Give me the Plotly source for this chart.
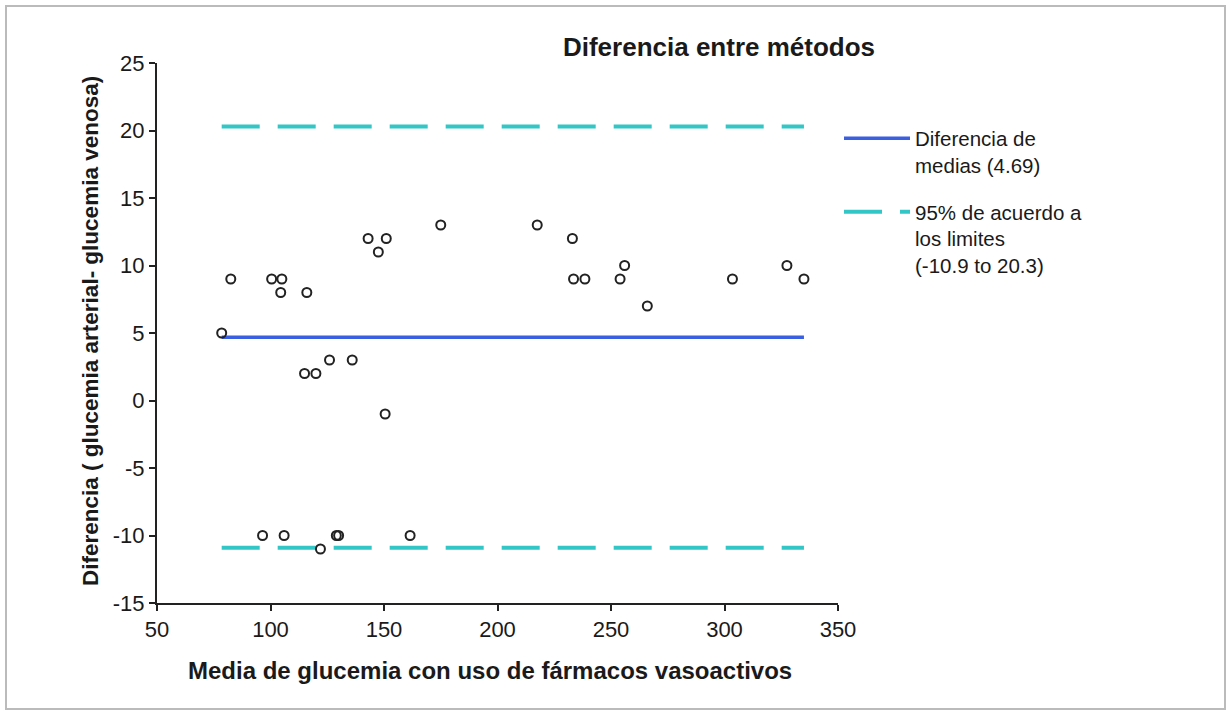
import plotly.graph_objects as go

# Data
media = [78.5, 82.5, 100.5, 105, 104.5, 116, 143, 151, 147.5, 175,
         217.5, 233, 233.5, 238.5, 254, 256, 266, 303.5, 327.5, 335,
         115, 120, 126, 136, 150.5, 96.5, 106, 122, 129, 130, 161.5]
diferencia = [5, 9, 9, 9, 8, 8, 12, 12, 11, 13,
              13, 12, 9, 9, 9, 10, 7, 9, 10, 9,
              2, 2, 3, 3, -1, -10, -10, -11, -10, -10, -10]
media_dif = 4.69
lim_inf = -10.9
lim_sup = 20.3

x_ticks = [50, 100, 150, 200, 250, 300, 350]
y_ticks = [-15, -10, -5, 0, 5, 10, 15, 20, 25]
y_tick_labels = ["-15", "-10", "-5", "0", "5", "10", "15", "20", "25"]

FONT = "Liberation Sans, Arial, sans-serif"
TXT = "#1a1a1a"

x0, x1 = min(media), max(media)

fig = go.Figure()
fig.add_trace(go.Scatter(
    x=[x0, x1], y=[media_dif, media_dif], mode="lines",
    line=dict(color="#3A5FE0", width=3.5), legendgroup="media",
    name="Diferencia de<br>medias (4.69)"))
fig.add_trace(go.Scatter(
    x=[x0, x1, None, x0, x1], y=[lim_sup, lim_sup, None, lim_inf, lim_inf],
    mode="lines", line=dict(color="#33C6C6", width=4, dash="38px,18px"),
    legendgroup="limites",
    name="95% de acuerdo a<br>los limites<br>(-10.9 to 20.3)"))
fig.add_trace(go.Scatter(
    x=media, y=diferencia, mode="markers", showlegend=False,
    marker=dict(symbol="circle-open", size=9, color="#222222",
                line=dict(width=2))))

W, H = 1230, 711
L, R, T, B = 157, 392, 63, 108
pw, ph = W - L - R, H - T - B

def px(x):
    return (x - L) / pw

def py(y):
    return (H - B - y) / ph

fig.update_layout(
    width=W, height=H,
    margin=dict(l=L, r=R, t=T, b=B),
    paper_bgcolor="white", plot_bgcolor="white",
    font=dict(family=FONT, color=TXT, size=22),
    title=dict(text="<b>Diferencia entre métodos</b>",
               x=px(719), xref="paper", xanchor="center",
               y=1 - 47 / H, yref="container", yanchor="middle",
               font=dict(size=26, family=FONT, color=TXT)),
    showlegend=True,
    legend=dict(x=px(839), y=py(118.5), xanchor="left", yanchor="top",
                valign="top", itemwidth=66, tracegroupgap=17,
                font=dict(size=20.5, family=FONT, color=TXT),
                bgcolor="rgba(0,0,0,0)"),
    xaxis=dict(range=[50, 350], tickvals=x_ticks, ticks="outside",
               ticklen=6, tickwidth=2, tickcolor="#222", showline=True,
               linecolor="#222", linewidth=2, showgrid=False, zeroline=False,
               tickfont=dict(size=22)),
    yaxis=dict(range=[-15, 25], tickvals=y_ticks, ticktext=y_tick_labels,
               ticks="outside",
               ticklen=6, tickwidth=2, tickcolor="#222", showline=True,
               linecolor="#222", linewidth=2, showgrid=False, zeroline=False,
               tickfont=dict(size=22)),
    annotations=[
        dict(text="<b>Media de glucemia con uso de fármacos vasoactivos</b>",
             x=px(490), y=py(670), xref="paper", yref="paper",
             xanchor="center", yanchor="middle", showarrow=False,
             font=dict(size=24, family=FONT, color=TXT)),
        dict(text="<b>Diferencia ( glucemia arterial- glucemia venosa)</b>",
             x=px(90), y=py(331), xref="paper", yref="paper",
             xanchor="center", yanchor="middle", showarrow=False,
             textangle=-90, font=dict(size=22.5, family=FONT, color=TXT)),
    ],
    shapes=[dict(type="rect", xref="paper", yref="paper",
                 x0=px(6), x1=px(1225), y0=py(709), y1=py(6),
                 line=dict(color="#BBBBBB", width=2), layer="below")],
)

fig.write_html("out.html")
